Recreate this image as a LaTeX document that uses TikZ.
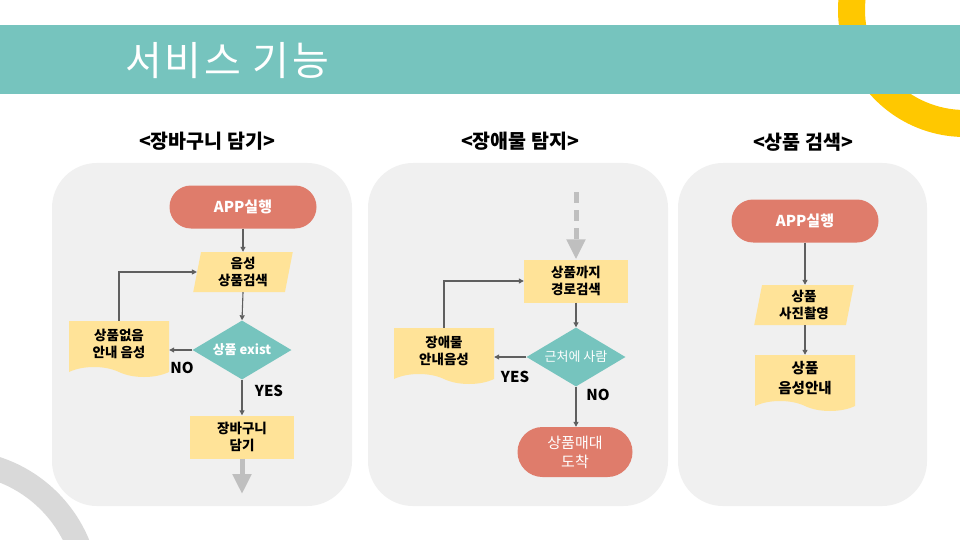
\documentclass[tikz,border=0pt]{standalone}
\usepackage{fontspec}
\setmainfont{Noto Sans CJK KR}
\usetikzlibrary{shapes.geometric,shapes.misc,shapes.symbols,arrows.meta}

\definecolor{bandteal}{HTML}{76C4BE}
\definecolor{startred}{HTML}{DF7C6B}
\definecolor{boxyellow}{HTML}{FFE398}
\definecolor{panelgray}{HTML}{F0F0F0}
\definecolor{ringyellow}{HTML}{FFC800}
\definecolor{ringgray}{HTML}{D9D9D9}
\definecolor{linegray}{HTML}{5F5F5F}
\definecolor{bigarrow}{HTML}{BFBFBF}

\newcommand{\boxfont}{\fontsize{13.5}{16.5}\selectfont\bfseries}

\tikzset{
  panel/.style={fill=panelgray, rounded corners=45pt},
  flow/.style={draw=linegray, line width=1.1pt, -{Triangle[width=5pt,length=5pt]}},
  terminal/.style={rounded rectangle, fill=startred, text=white,
    minimum width=147pt, minimum height=43pt, inner sep=0pt, align=center,
    font=\fontsize{15}{18}\selectfont\bfseries},
  inout/.style={trapezium, trapezium left angle=81, trapezium right angle=99,
    trapezium stretches=true, fill=boxyellow, minimum width=100pt,
    minimum height=40pt, inner sep=0pt, align=center, font=\boxfont},
  decision/.style={diamond, shape aspect=1.68, fill=bandteal, text=white,
    minimum width=99pt, minimum height=59pt, inner sep=0pt,
    font=\fontsize{13}{16}\selectfont\bfseries},
  process/.style={rectangle, fill=boxyellow, minimum width=104pt,
    minimum height=43pt, inner sep=0pt, align=center, font=\boxfont},
  docbox/.style={tape, tape bend top=none, tape bend bottom=out and in,
    tape bend height=10pt, fill=boxyellow, minimum width=100pt,
    minimum height=56pt, inner sep=0pt, align=center, font=\boxfont},
  subtitle/.style={font=\fontsize{19.5}{21}\selectfont\bfseries},
  answer/.style={font=\fontsize{15}{18}\selectfont\bfseries}
}

\begin{document}
\begin{tikzpicture}[x=1pt, y=-1pt]

    \useasboundingbox (0,0) rectangle (960,540);
    \clip (0,0) rectangle (960,540);
    \fill[white] (0,0) rectangle (960,540);

    % decoration rings and title band
    \fill[ringyellow, even odd rule] (965,10) circle[radius=127] (965,10) circle[radius=100];
    \fill[bandteal] (0,25) rectangle (960,94);
    \fill[ringgray, even odd rule] (-45,595) circle[radius=145] (-45,595) circle[radius=121];

    \node[anchor=west,
        text=white,
        font=\fontsize{40}{42}\selectfont\addfontfeature{LetterSpace=6.5}] (title) at (122,61) {서비스 기능};

    % panels
    \fill[panel] (52,163) rectangle (352,506);
    \fill[panel] (368,163) rectangle (668,506);
    \fill[panel] (678,163) rectangle (927,506);

    \node[subtitle] (sub1) at (207,141) {<장바구니 담기>};
    \node[subtitle] (sub2) at (520,141) {<장애물 탐지>};
    \node[subtitle] (sub3) at (803,142) {<상품 검색>};

    % panel 1
    \node[terminal] (app1) at (243,207) {APP실행};
    \node[inout] (voice1) at (243,272) {음성\\상품검색};
    \node[decision] (exist1) at (242,350) {상품 exist};
    \node[docbox] (nogoods1) at (119,344) {상품없음\\안내 음성};
    \node[process] (cart1) at (242,437) {장바구니\\담기};
    \coordinate (out1) at (242,494);

    \draw[flow] (app1.south) -- (voice1.north -| app1.south);
    \draw[flow] (voice1.south) -- (exist1.north);
    \draw[flow] (exist1.west) -- (nogoods1.east |- exist1.west);
    \draw[flow] (nogoods1.north) |- (voice1.west);
    \draw[flow] (exist1.south) -- (cart1.north);
    \draw[bigarrow, line width=5pt, -{Triangle[width=18pt,length=20pt]}] (cart1.south) -- (out1);

    \node[answer] (no1) at (182,368) {NO};
    \node[answer] (yes1) at (269,391) {YES};

    % panel 2
    \coordinate (in2) at (576,192);
    \node[process] (route2) at (576,281) {상품까지\\경로검색};
    \node[decision,
        font=\fontsize{13}{16}\selectfont] (near2) at (576,357) {근처에 사람};
    \node[docbox] (warn2) at (444,351) {장애물\\안내음성};
    \node[terminal,
        minimum width=115pt,
        minimum height=50pt,
        font=\fontsize{15}{19}\selectfont] (arrive2) at (575,452) {상품매대\\도착};

    \draw[bigarrow, line width=5pt, dash pattern=on 11pt off 7pt,
        -{Triangle[width=18pt,length=20pt]}] (in2) -- (route2.north);
    \draw[flow] (route2.south) -- (near2.north);
    \draw[flow] (near2.west) -- (warn2.east |- near2.west);
    \draw[flow] (warn2.north) |- (route2.west);
    \draw[flow] (near2.south) -- (arrive2.north -| near2.south);

    \node[answer] (yes2) at (515,377) {YES};
    \node[answer] (no2) at (598,395) {NO};

    % panel 3
    \node[terminal] (app3) at (805,221) {APP실행};
    \node[inout] (photo3) at (804,305) {상품\\사진촬영};
    \node[docbox,
        font=\fontsize{14.5}{20}\selectfont\bfseries] (guide3) at (805,378) {상품\\음성안내};

    \draw[flow] (app3.south) -- (photo3.north -| app3.south);
    \draw[flow] (photo3.south -| app3.south) -- (guide3.north -| app3.south);

\end{tikzpicture}
\end{document}
